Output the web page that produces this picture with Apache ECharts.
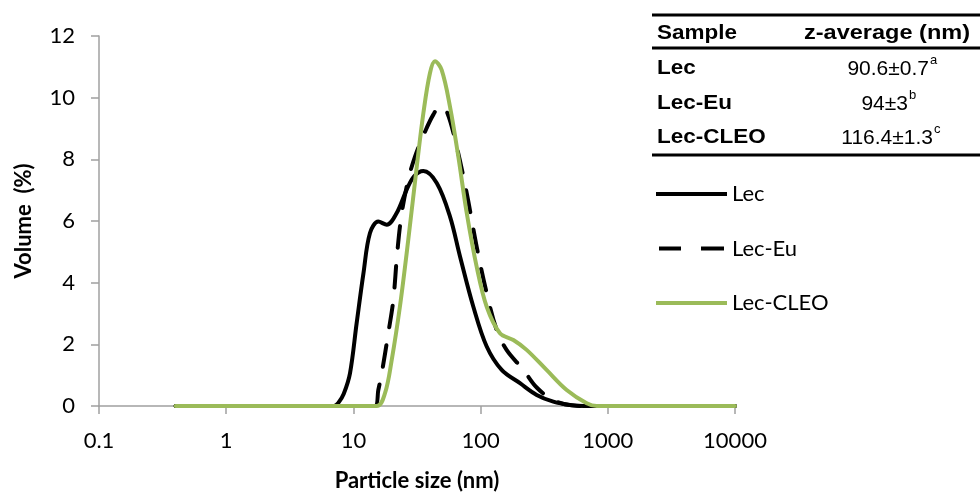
<!DOCTYPE html>
<html>
<head>
<meta charset="utf-8">
<script src="https://cdn.jsdelivr.net/npm/echarts@6/dist/echarts.min.js"></script>
<style>
  html, body { margin: 0; padding: 0; background: #fff; }
</style>
</head>
<body>
<div id="main" style="width: 980px; height: 496px;"></div>
<script>
  // 粒径 (nm) 和体积 (%) 数据
  const lecSize = [0.4, 7.0, 7.6, 8.4, 9.4, 10.6, 12.0, 13.5, 15.7, 18.3, 21.9, 26.2, 30, 35.5, 45.2, 57.4, 68.9, 87.7, 111.7, 146.5, 204, 276, 373, 505, 650, 10000]
  const lecVol  = [0, 0, 0.1, 0.4, 1.06, 2.68, 4.31, 5.61, 5.98, 5.88, 6.26, 7.01, 7.45, 7.62, 7.23, 6.15, 4.85, 3.22, 1.93, 1.17, 0.74, 0.36, 0.14, 0.03, 0, 0]

  const euSize = [0.4, 14.8, 15.7, 16.7, 18.8, 20.6, 22.1, 24.0, 27.0, 30.5, 36.6, 42.5, 48, 54.1, 64.8, 77.8, 93.1, 111.7, 133.7, 160, 217, 276, 373, 520, 700, 10000]
  const euVol  = [0, 0, 0.52, 1.06, 2.36, 3.44, 4.96, 6.26, 7.34, 8.09, 8.9, 9.45, 9.72, 9.56, 8.42, 6.9, 5.17, 3.66, 2.47, 1.82, 1.17, 0.6, 0.19, 0.02, 0, 0]

  const cleoSize = [0.4, 15.2, 17.7, 20.0, 23.2, 27.0, 31.5, 35.5, 40, 43.8, 49.4, 57.4, 66.8, 77.8, 93.1, 111.7, 142, 181, 230, 330, 475, 683, 819, 10000]
  const cleoVol  = [0, 0, 0.41, 1.49, 3.22, 5.39, 7.77, 9.5, 10.8, 11.18, 10.9, 9.72, 8.09, 6.26, 4.52, 3.22, 2.36, 2.14, 1.82, 1.17, 0.52, 0.09, 0, 0]

  // 表格内容
  const tableSamples = ['Lec', 'Lec-Eu', 'Lec-CLEO']
  const tableValues = ['90.6±0.7', '94±3', '116.4±1.3']
  const tableSup = ['a', 'b', 'c']

  const yTicks = [0, 2, 4, 6, 8, 10, 12]

  const pairs = (xs, ys) => xs.map((x, i) => [x, ys[i]])

  const myChart = echarts.init(document.getElementById('main'))

  const axisGray = '#a0a0a0'
  const green = '#9bbb59'
  const boldFont = 'bold 21px "Liberation Sans"'

  // 表格 graphic
  const rowY = [68, 103, 137]
  const valueRight = [929, 908, 933]
  const table = [
    { type: 'line', shape: { x1: 652, y1: 15, x2: 980, y2: 15 }, style: { stroke: '#000', lineWidth: 3 } },
    { type: 'line', shape: { x1: 652, y1: 48, x2: 980, y2: 48 }, style: { stroke: '#000', lineWidth: 3 } },
    { type: 'line', shape: { x1: 652, y1: 155, x2: 980, y2: 155 }, style: { stroke: '#000', lineWidth: 3 } },
    { type: 'text', x: 657, y: 33, scaleX: 1.07, style: { text: 'Sample', font: boldFont, fill: '#000', textVerticalAlign: 'middle' } },
    { type: 'text', x: 804, y: 33, scaleX: 1.12, style: { text: 'z-average (nm)', font: boldFont, fill: '#000', textVerticalAlign: 'middle' } }
  ]
  tableSamples.forEach((s, i) => {
    table.push({ type: 'text', x: 657, y: rowY[i], scaleX: 1.07, style: { text: s, font: boldFont, fill: '#000', textVerticalAlign: 'middle' } })
    table.push({ type: 'text', x: valueRight[i], y: rowY[i] + 1, style: { text: tableValues[i], font: '21px "Liberation Sans"', fill: '#000', textAlign: 'right', textVerticalAlign: 'middle' } })
    table.push({ type: 'text', x: valueRight[i] + 1, y: rowY[i] - 8, style: { text: tableSup[i], font: '13px "Liberation Sans"', fill: '#000', textAlign: 'left', textVerticalAlign: 'middle' } })
  })

  const option = {
    animation: false,
    grid: { left: 99, right: 245, top: 36, bottom: 90, outerBoundsMode: 'none', containLabel: false },
    legend: {
      orient: 'vertical',
      left: 656,
      top: 183,
      padding: 0,
      itemWidth: 71,
      itemHeight: 4,
      itemGap: 32.5,
      textStyle: { fontFamily: 'Lato', fontSize: 22, color: '#000' },
      data: [
        { name: 'Lec', icon: 'path://M0,0H71V4H0Z' },
        { name: 'Lec-Eu', icon: 'path://M0,0H22V4H0Z M42,0H65V4H42Z' },
        { name: 'Lec-CLEO', icon: 'path://M0,0H71V4H0Z' }
      ]
    },
    xAxis: {
      type: 'log',
      logBase: 10,
      min: 0.1,
      max: 10000,
      name: 'Particle size (nm)',
      nameLocation: 'middle',
      nameGap: 64,
      nameTextStyle: { fontFamily: 'Lato', fontWeight: 'bold', fontSize: 22, color: '#000' },
      axisLine: { lineStyle: { color: axisGray, width: 1.5 } },
      axisTick: { show: true, length: 8, lineStyle: { color: axisGray, width: 1.5 } },
      minorTick: { show: false },
      splitLine: { show: false },
      axisLabel: {
        margin: 24,
        fontFamily: 'Lato',
        fontSize: 22,
        color: '#000',
        formatter: v => String(Number(v.toPrecision(6)))
      }
    },
    yAxis: {
      type: 'value',
      min: yTicks[0],
      max: yTicks[yTicks.length - 1],
      interval: 2,
      name: 'Volume  (%)',
      nameLocation: 'middle',
      nameGap: 64,
      nameRotate: 90,
      nameTextStyle: { fontFamily: 'Lato', fontWeight: 'bold', fontSize: 22, color: '#000' },
      axisLine: { show: true, lineStyle: { color: axisGray, width: 1.5 } },
      axisTick: { show: true, length: 8, lineStyle: { color: axisGray, width: 1.5 } },
      splitLine: { show: false },
      axisLabel: { margin: 24, fontFamily: 'Lato', fontSize: 22, color: '#000' }
    },
    series: [
      {
        name: 'Lec',
        type: 'line',
        data: pairs(lecSize, lecVol),
        symbol: 'none',
        smooth: 0.35,
        lineStyle: { color: '#000', width: 4, cap: 'round', join: 'round' },
        itemStyle: { color: '#000' }
      },
      {
        name: 'Lec-Eu',
        type: 'line',
        data: pairs(euSize, euVol),
        symbol: 'none',
        smooth: 0.35,
        lineStyle: { color: '#000', width: 4, type: [22, 18], cap: 'round' },
        itemStyle: { color: '#000' }
      },
      {
        name: 'Lec-CLEO',
        type: 'line',
        data: pairs(cleoSize, cleoVol),
        symbol: 'none',
        smooth: 0.35,
        lineStyle: { color: green, width: 4, cap: 'round', join: 'round' },
        itemStyle: { color: green }
      }
    ],
    graphic: table
  }

  myChart.setOption(option)
</script>
</body>
</html>
